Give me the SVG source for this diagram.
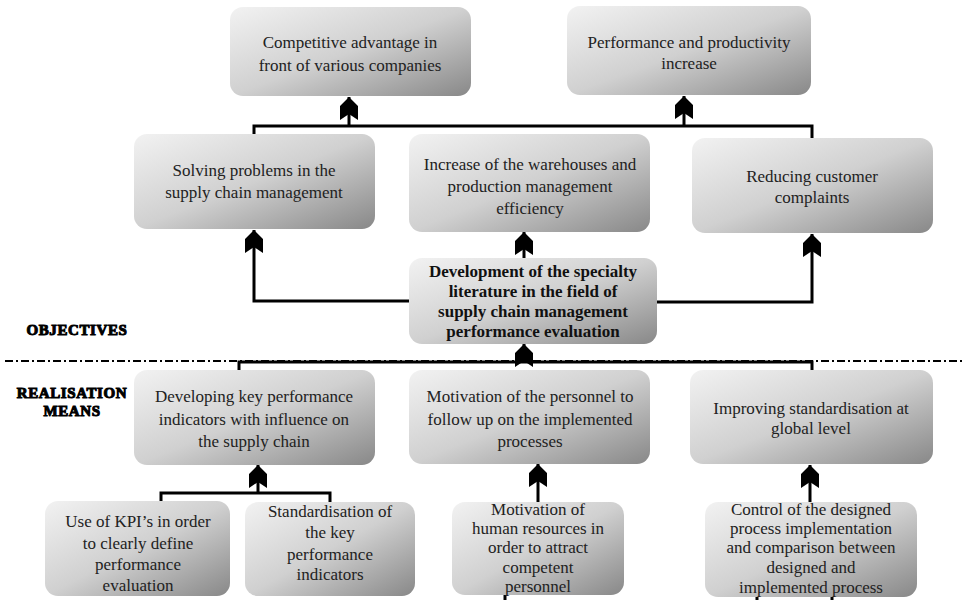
<svg xmlns="http://www.w3.org/2000/svg" width="964" height="600" viewBox="0 0 964 600">
<style>
.box{fill:url(#g);stroke:none}
.t{font-family:"Liberation Serif","Times New Roman",serif;font-size:17px;fill:#222;text-anchor:middle}
.tb{font-family:"Liberation Serif","Times New Roman",serif;font-size:17px;font-weight:bold;fill:#111;text-anchor:middle}
.lab{font-family:"Liberation Serif","Times New Roman",serif;font-size:15px;font-weight:bold;fill:#000;stroke:#000;stroke-width:1;letter-spacing:0.6px;text-anchor:middle}
.ln{fill:none;stroke:#000;stroke-width:3}
.arr{fill:none;stroke:#000;stroke-width:3;marker-end:url(#ah)}
.sep{fill:none;stroke:#000;stroke-width:2;stroke-dasharray:8 3 2 3}
</style>
<defs>
<linearGradient id="g" x1="0" y1="0" x2="1" y2="1">
<stop offset="0" stop-color="#f2f2f2"/>
<stop offset="0.5" stop-color="#d0d0d0"/>
<stop offset="1" stop-color="#888888"/>
</linearGradient>
<marker id="ah" markerUnits="userSpaceOnUse" viewBox="-25 -12 30 24" markerWidth="30" markerHeight="24" refX="0" refY="0" orient="auto">
<path d="M0,0 L-9,-9 L-23,-9 L-17,0 L-23,9 L-9,9 Z" fill="#000"/>
</marker>
</defs>

<g id="separator">
<line class="sep" x1="5" y1="361" x2="962" y2="361"/>
</g>

<g id="labels">
<text class="lab" x="77" y="335">OBJECTIVES</text>
<text class="lab" x="72" y="398">REALISATION</text>
<text class="lab" x="72" y="416">MEANS</text>
</g>

<g id="connectors">
<polyline class="ln" points="254,134 254,126 812,126 812,138"/>
<line class="arr" x1="349" y1="126" x2="349" y2="97"/>
<line class="arr" x1="684" y1="126" x2="684" y2="96"/>
<polyline class="arr" points="409,301 254,301 254,230"/>
<polyline class="arr" points="657,302 812,302 812,234"/>
<line class="arr" x1="524" y1="258" x2="524" y2="232"/>
<polyline class="ln" points="239,370 239,362 812,362 812,370"/>
<line class="arr" x1="524" y1="362" x2="524" y2="344"/>
<polyline class="ln" points="161,501 161,493 330,493 330,502"/>
<line class="arr" x1="258" y1="493" x2="258" y2="465"/>
<line class="arr" x1="538" y1="502" x2="538" y2="464"/>
<line class="arr" x1="810" y1="502" x2="810" y2="465"/>
<line class="ln" x1="505" y1="595" x2="505" y2="600"/>
<line class="ln" x1="757" y1="596" x2="757" y2="600"/>
<line class="ln" x1="832" y1="596" x2="832" y2="600"/>
</g>

<g id="n-competitive">
<rect class="box" x="230" y="7" width="241" height="89" rx="13"/>
<text class="t" x="350" y="48">Competitive advantage in</text>
<text class="t" x="350" y="71">front of various companies</text>
</g>
<g id="n-performance">
<rect class="box" x="567" y="6" width="244" height="89" rx="13"/>
<text class="t" x="689" y="48">Performance and productivity</text>
<text class="t" x="689" y="69">increase</text>
</g>
<g id="n-solving">
<rect class="box" x="134" y="134" width="241" height="95" rx="13"/>
<text class="t" x="254" y="176">Solving problems in the</text>
<text class="t" x="254" y="198">supply chain management</text>
</g>
<g id="n-warehouses">
<rect class="box" x="409" y="134" width="241" height="98" rx="13"/>
<text class="t" x="530" y="170">Increase of the warehouses and</text>
<text class="t" x="530" y="192">production management</text>
<text class="t" x="530" y="214">efficiency</text>
</g>
<g id="n-complaints">
<rect class="box" x="692" y="138" width="241" height="95" rx="13"/>
<text class="t" x="812" y="182">Reducing customer</text>
<text class="t" x="812" y="203">complaints</text>
</g>
<g id="n-development">
<rect class="box" x="409" y="258" width="248" height="86" rx="13"/>
<text class="tb" x="533" y="277">Development of the specialty</text>
<text class="tb" x="533" y="297">literature in the field of</text>
<text class="tb" x="533" y="317">supply chain management</text>
<text class="tb" x="533" y="337">performance evaluation</text>
</g>
<g id="n-kpi">
<rect class="box" x="134" y="370" width="241" height="95" rx="13"/>
<text class="t" x="254" y="402">Developing key performance</text>
<text class="t" x="254" y="425">indicators with influence on</text>
<text class="t" x="254" y="447">the supply chain</text>
</g>
<g id="n-motivation">
<rect class="box" x="409" y="370" width="241" height="94" rx="13"/>
<text class="t" x="530" y="402">Motivation of the personnel to</text>
<text class="t" x="530" y="425">follow up on the implemented</text>
<text class="t" x="530" y="447">processes</text>
</g>
<g id="n-standardisation">
<rect class="box" x="690" y="370" width="243" height="94" rx="13"/>
<text class="t" x="811" y="414">Improving standardisation at</text>
<text class="t" x="811" y="434">global level</text>
</g>
<g id="n-use-kpi">
<rect class="box" x="45" y="501" width="185" height="95" rx="13"/>
<text class="t" x="138" y="527">Use of KPI’s in order</text>
<text class="t" x="138" y="549">to clearly define</text>
<text class="t" x="138" y="570">performance</text>
<text class="t" x="138" y="591">evaluation</text>
</g>
<g id="n-std-kpi">
<rect class="box" x="245" y="502" width="170" height="94" rx="13"/>
<text class="t" x="330" y="517">Standardisation of</text>
<text class="t" x="330" y="538">the key</text>
<text class="t" x="330" y="560">performance</text>
<text class="t" x="330" y="580">indicators</text>
</g>
<g id="n-human">
<rect class="box" x="452" y="502" width="172" height="93" rx="13"/>
<text class="t" x="538" y="515">Motivation of</text>
<text class="t" x="538" y="534">human resources in</text>
<text class="t" x="538" y="553">order to attract</text>
<text class="t" x="538" y="573">competent</text>
<text class="t" x="538" y="592">personnel</text>
</g>
<g id="n-control">
<rect class="box" x="705" y="502" width="212" height="95" rx="13"/>
<text class="t" x="811" y="515">Control of the designed</text>
<text class="t" x="811" y="534">process implementation</text>
<text class="t" x="811" y="553">and comparison between</text>
<text class="t" x="811" y="573">designed and</text>
<text class="t" x="811" y="593">implemented process</text>
</g>
</svg>
